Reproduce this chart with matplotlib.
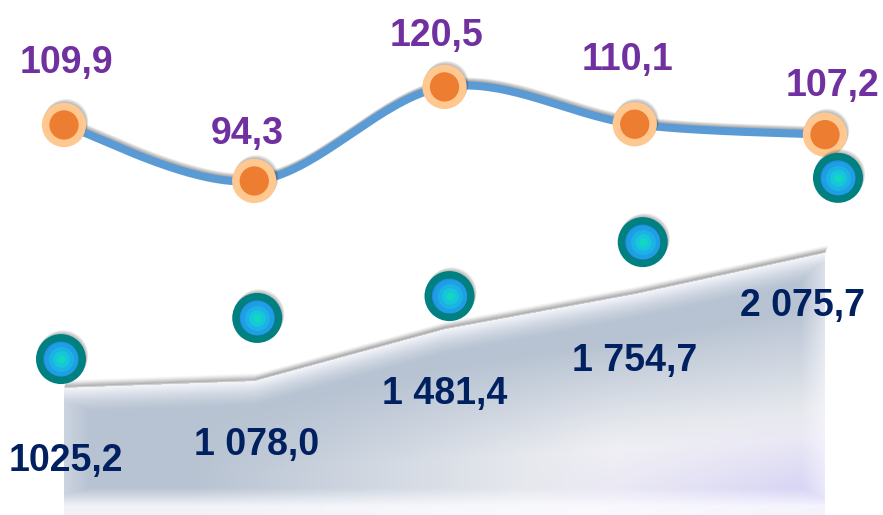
import numpy as np
import matplotlib
matplotlib.use('Agg')
import matplotlib.pyplot as plt
from matplotlib import patheffects as pe
from matplotlib.transforms import offset_copy

# data
periods = [0, 1, 2, 3, 4]
volume = [1025.2, 1078.0, 1481.4, 1754.7, 2075.7]
volume_labels = ['1025,2', '1 078,0', '1 481,4', '1 754,7', '2 075,7']
index = [109.9, 94.3, 120.5, 110.1, 107.2]
index_labels = ['109,9', '94,3', '120,5', '110,1', '107,2']
# teal dots, read on the volume scale
dot_level = [1250, 1570, 1740, 2160, 2660]

# label offsets in pixels (dx, dy down) - styling only
index_off = [(2, -52), (-7, -37), (-8, -41), (-7, -54), (8, -39)]
volume_off = [(2, 83), (2, 74), (0, 75), (0, 77), (-22, 63)]
dot_dx = [-3, 3, 5, 8, 13]

W, H = 883, 515
fig = plt.figure(figsize=(W / 100, H / 100), dpi=100)
fig.patch.set_facecolor('white')

ax = fig.add_axes([0, 0, 1, 1])
ax.axis('off')
xlim = (-64 / 190.25, (W - 64) / 190.25)
ylim = (36.6, 4044)

# gradient for the area (pixel grid)
cols = np.arange(W) + 0.5
rows = np.arange(H) + 0.5
xd = xlim[0] + cols / W * (xlim[1] - xlim[0])
top_val = np.interp(xd, periods, volume)
top_px = H - (top_val - ylim[0]) / (ylim[1] - ylim[0]) * H
R, C = np.meshgrid(rows, cols, indexing='ij')
TP = np.broadcast_to(top_px, R.shape)
d = R - TP
v = np.clip(d / (H - TP), 0, 1)
u = np.clip((C - 64) / (825 - 64), 0, 1)

G = np.array([0.72, 0.765, 0.825])
Wc = np.array([0.95, 0.95, 0.96])
L = np.array([0.80, 0.78, 0.96])
wW = np.clip(u * 1.8 - 0.3, 0, 1) * np.clip(v * 2.0 - 0.4, 0, 1)
wL = np.clip((u - 0.6) / 0.4, 0, 1) * np.clip((v - 0.6) / 0.4, 0, 1)
img = G * (1 - wW[..., None]) + Wc * wW[..., None]
img = img * (1 - wL[..., None]) + L * wL[..., None]
# bevels
hi = 0.9 * np.clip(1 - d / 26, 0, 1) ** 1.5 * (d >= 0)
hi = np.maximum(hi, 0.85 * np.clip((R - 488) / 18, 0, 1))
hi = np.maximum(hi, 0.3 * np.clip(1 - (C - 64) / 26, 0, 1))
hi = np.maximum(hi, 0.55 * np.clip(1 - (825 - C) / 24, 0, 1))
img = img * (1 - hi[..., None]) + np.array([0.985, 0.985, 1.0]) * hi[..., None]

im = ax.imshow(img, extent=(xlim[0], xlim[1], ylim[0], ylim[1]), origin='upper',
               aspect='auto', zorder=1, interpolation='bilinear')
poly = ax.fill_between(periods, 0, volume, facecolor='none', edgecolor='none')
im.set_clip_path(poly.get_paths()[0], transform=ax.transData)

# soft shadow above the top edge
for off in range(1, 8):
    tr = offset_copy(ax.transData, fig=fig, x=0.3 * off, y=off * 0.72, units='points')
    ax.plot(periods, volume, color='#505050', alpha=0.3 * (1 - off / 8) ** 1.3, lw=1.6,
            transform=tr, zorder=0.5, solid_capstyle='butt')
ax.set_xlim(xlim)
ax.set_ylim(ylim)

for i, lbl in enumerate(volume_labels):
    dx, dy = volume_off[i]
    ax.annotate(lbl, (periods[i], volume[i]), xytext=(dx * 0.72, -dy * 0.72),
                textcoords='offset points', ha='center', va='baseline',
                fontsize=27, fontweight='bold', family='Liberation Sans',
                color='#002060', zorder=4)

# index line
ax2 = fig.add_axes([0, 0, 1, 1], sharex=ax)
ax2.axis('off')
ax2.patch.set_visible(False)
ax2.set_ylim(1.27, 144.7)


def catmull(x, y, n=40):
    x = np.asarray(x, float)
    y = np.asarray(y, float)
    xs, ys = [], []
    for i in range(len(x) - 1):
        i0, i3 = max(i - 1, 0), min(i + 2, len(x) - 1)
        p0, p1, p2, p3 = (np.array([x[k], y[k]]) for k in (i0, i, i + 1, i3))
        c1 = p1 + (p2 - p0) / 6
        c2 = p2 - (p3 - p1) / 6
        t = np.linspace(0, 1, n)[:, None]
        b = ((1 - t) ** 3) * p1 + 3 * ((1 - t) ** 2) * t * c1 + 3 * (1 - t) * t ** 2 * c2 + t ** 3 * p2
        xs.append(b[:, 0])
        ys.append(b[:, 1])
    return np.concatenate(xs), np.concatenate(ys)


def soft(n=4, a=0.09, dx=1.0, dy=1.8):
    fx = [pe.SimpleLineShadow(offset=(dx * k / n * 1.5, dy * k / n * 1.5),
                              shadow_color='k', alpha=a) for k in range(1, n + 1)]
    return fx + [pe.Normal()]


sx, sy = catmull(periods, index)
ax2.plot(sx, sy, color='#5b9bd5', lw=5.8, zorder=2, path_effects=soft(),
         solid_capstyle='round')
ax2.plot(periods, index, ls='none', marker='o', ms=26.5, mew=5.4,
         mfc='#ed7d31', mec='#ffc891', zorder=3, path_effects=soft(a=0.07))

# teal dots drawn on top, on the volume scale
inner = [(24, '#1f9ee6'), (18, '#1bb3e4'), (12, '#17c6dc'), (6, '#12d8c0')]
for i in range(len(periods)):
    tr = offset_copy(ax.transData, fig=fig, x=dot_dx[i] * 0.72, y=0, units='points')
    ax2.plot(periods[i], dot_level[i], ls='none', marker='o', ms=30.6, mew=5.4,
             mfc='#2390e4', mec='#008080', transform=tr, zorder=5,
             path_effects=soft(a=0.07))
    for k, (ms, c) in enumerate(inner):
        ax2.plot(periods[i], dot_level[i], ls='none', marker='o', ms=ms, mew=0,
                 mfc=c, transform=tr, zorder=6 + k * 0.1)

for i, lbl in enumerate(index_labels):
    dx, dy = index_off[i]
    ax2.annotate(lbl, (periods[i], index[i]), xytext=(dx * 0.72, -dy * 0.72),
                 textcoords='offset points', ha='center', va='baseline',
                 fontsize=27, fontweight='bold', family='Liberation Sans',
                 color='#7030a0', zorder=8)

ax.set_xlim(xlim)
fig.savefig('out.png', dpi=100)
